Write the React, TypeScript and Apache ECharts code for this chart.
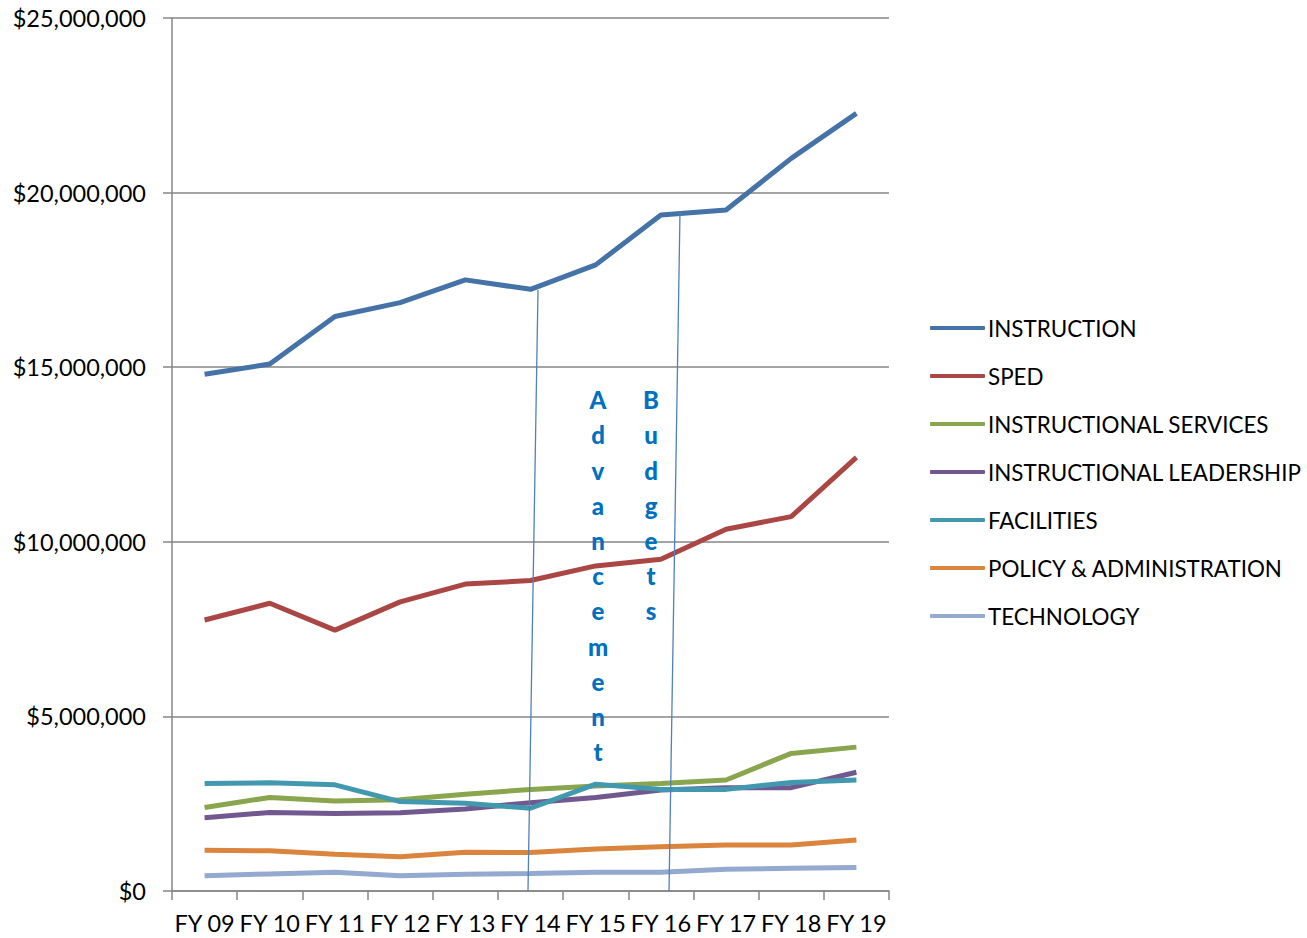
import React, { useEffect, useRef } from "react";
import * as echarts from "echarts";

const categories = ["FY 09", "FY 10", "FY 11", "FY 12", "FY 13", "FY 14", "FY 15", "FY 16", "FY 17", "FY 18", "FY 19"];

const instruction = [14800000, 15090000, 16450000, 16850000, 17500000, 17230000, 17930000, 19360000, 19500000, 20980000, 22270000];
const sped = [7760000, 8240000, 7470000, 8280000, 8790000, 8890000, 9310000, 9500000, 10360000, 10720000, 12420000];
const instructionalServices = [2390000, 2680000, 2580000, 2610000, 2770000, 2910000, 3010000, 3080000, 3180000, 3940000, 4120000];
const instructionalLeadership = [2100000, 2250000, 2220000, 2240000, 2350000, 2530000, 2680000, 2890000, 2960000, 2960000, 3400000];
const facilities = [3080000, 3100000, 3040000, 2560000, 2510000, 2370000, 3060000, 2910000, 2910000, 3110000, 3180000];
const policyAdministration = [1170000, 1150000, 1050000, 980000, 1110000, 1100000, 1200000, 1270000, 1320000, 1320000, 1460000];
const technology = [440000, 490000, 540000, 440000, 480000, 500000, 540000, 540000, 620000, 650000, 670000];

const seriesNames = [
  "INSTRUCTION",
  "SPED",
  "INSTRUCTIONAL SERVICES",
  "INSTRUCTIONAL LEADERSHIP",
  "FACILITIES",
  "POLICY & ADMINISTRATION",
  "TECHNOLOGY",
];
const seriesData = [instruction, sped, instructionalServices, instructionalLeadership, facilities, policyAdministration, technology];
const colors = ["#4572A7", "#AA4643", "#89A54E", "#71588F", "#4198AF", "#DB843D", "#93A9CF"];

const annotationWords = ["Advancement", "Budgets"];

const FONT = "Lato, 'Open Sans', sans-serif";

export default function App() {
  const ref = useRef<HTMLDivElement>(null);
  useEffect(() => {
    if (!ref.current) return;
    const chart = echarts.init(ref.current, undefined, { renderer: "svg" });
    const grid = { left: 172, right: 418, top: 18, bottom: 47 };
    chart.setOption({
      animation: false,
      color: colors,
      grid,
      legend: {
        orient: "vertical",
        left: 925,
        top: 312,
        icon: "roundRect",
        itemWidth: 55,
        itemHeight: 4,
        itemGap: 26,
        textStyle: { fontFamily: FONT, fontSize: 22.4, color: "#000", lineHeight: 22, padding: [0, 0, 0, -2] },
        data: seriesNames,
      },
      xAxis: {
        type: "category",
        data: categories,
        boundaryGap: true,
        axisLine: { lineStyle: { color: "#868686", width: 1.5 } },
        axisTick: { show: true, length: 9, lineStyle: { color: "#868686", width: 1.5 } },
        axisLabel: { fontFamily: FONT, fontSize: 23.5, color: "#000", margin: 20, interval: 0 },
      },
      yAxis: {
        type: "value",
        min: 0,
        max: 25000000,
        interval: 5000000,
        axisLine: { show: true, lineStyle: { color: "#868686", width: 1.5 } },
        axisTick: { show: true, length: 9, lineStyle: { color: "#868686", width: 1.5 } },
        splitLine: { lineStyle: { color: "#868686", width: 1.5 } },
        axisLabel: {
          fontFamily: FONT,
          fontSize: 23.5,
          color: "#000",
          margin: 26,
          formatter: (v: number) => "$" + v.toLocaleString("en-US"),
        },
      },
      series: seriesNames.map((name, i) => ({
        name,
        type: "line",
        data: seriesData[i],
        symbol: "none",
        lineStyle: { width: 5, color: colors[i] },
        itemStyle: { color: colors[i] },
      })),
      graphic: [
        { type: "line", shape: { x1: 538, y1: 290, x2: 528, y2: 891 }, style: { stroke: "#4F81BD", lineWidth: 1.3 }, z: 100 },
        { type: "line", shape: { x1: 680, y1: 212, x2: 669, y2: 891 }, style: { stroke: "#4F81BD", lineWidth: 1.3 }, z: 100 },
        {
          type: "text",
          x: 598,
          y: 382,
          z: 100,
          style: {
            text: annotationWords[0].split("").join("\n"),
            font: "900 24px " + FONT,
            fill: "#0070C0",
            lineHeight: 35.2,
            align: "center",
            verticalAlign: "top",
          },
        },
        {
          type: "text",
          x: 651,
          y: 382,
          z: 100,
          style: {
            text: annotationWords[1].split("").join("\n"),
            font: "900 24px " + FONT,
            fill: "#0070C0",
            lineHeight: 35.2,
            align: "center",
            verticalAlign: "top",
          },
        },
      ],
    });
    return () => chart.dispose();
  }, []);
  return <div ref={ref} style={{ position: "fixed", left: 0, top: 0, width: 1307, height: 938, background: "#fff" }} />;
}
